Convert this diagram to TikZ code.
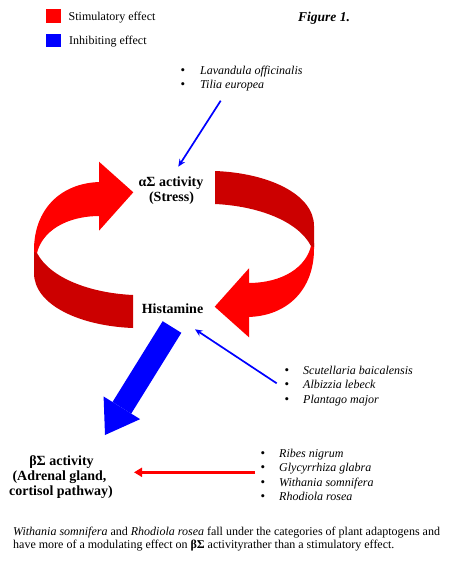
\documentclass[tikz,border=0pt]{standalone}
\usepackage{fontspec}
\setmainfont{Liberation Serif}
\usetikzlibrary{arrows.meta}
\definecolor{redb}{RGB}{255,0,0}
\definecolor{redd}{RGB}{204,0,0}
\definecolor{blueb}{RGB}{0,0,255}
\newcommand\ribbonshape{%
  \fill[redb] (100,182) .. controls (60,183) and (34,210) .. (34,250) -- (34,256) -- (37,253) .. controls (42,232) and (65,216) .. (100,216) -- cycle;
  \fill[redb] (133.3,192.3) -- (99,161.7) -- (99,230.7) -- cycle;
  \fill[redd] (37,253) .. controls (50,278) and (90,293) .. (133,295) -- (133,328) .. controls (80,326) and (34,305) .. (34,273) -- (34,252) -- cycle;
}
\begin{document}
\begin{tikzpicture}[x=1pt,y=-1pt,
  txt/.style={inner sep=0pt, anchor=base west, font=\fontsize{12}{14}\selectfont},
  itxt/.style={inner sep=0pt, anchor=base west, font=\fontsize{12}{14}\selectfont\itshape},
  lbl/.style={inner sep=0pt, anchor=base, font=\fontsize{14}{15}\selectfont\bfseries},
  bul/.style={inner sep=0pt, anchor=base, font=\fontsize{13}{14}\selectfont},
  inharrow/.style={draw=blueb, line width=1.7pt, -{Stealth[length=7.5pt,width=6.5pt]}},
]
\useasboundingbox (0,0) rectangle (451,563);
% legend
\fill[redb] (46,9) rectangle (61,22.7);
\fill[blueb] (46,33.7) rectangle (61,46.7);
\node[txt] (stim) at (68.5,20) {Stimulatory effect};
\node[txt] (inhib) at (69,44.3) {Inhibiting effect};
\node[inner sep=0pt, anchor=base west, font=\fontsize{13.5}{15}\selectfont\bfseries\itshape] (fig) at (298,21.7) {Figure 1.};
% top list
\node[bul] (b1) at (183,74) {•};
\node[itxt] (lav) at (200,74) {Lavandula officinalis};
\node[bul] (b2) at (183,88) {•};
\node[itxt] (til) at (200,88) {Tilia europea};
% ribbon arrows
\ribbonshape
\begin{scope}[rotate around={180:(174,249.5)}]
\ribbonshape
\end{scope}
% labels
\node[lbl] (alpha) at (171,186.7) {αΣ activity};
\node[lbl] (stress) at (171.5,201.7) {(Stress)};
\node[lbl] (hist) at (172.5,313.3) {Histamine};
% right list
\node[bul] (b3) at (287,374) {•};
\node[itxt] (scu) at (303,374) {Scutellaria baicalensis};
\node[bul] (b4) at (287,388.5) {•};
\node[itxt] (alb) at (303,388.5) {Albizzia lebeck};
\node[bul] (b5) at (287,403.3) {•};
\node[itxt] (pla) at (303,403.3) {Plantago major};
% bottom list
\node[bul] (b6) at (263,457.3) {•};
\node[itxt] (rib) at (279,457.3) {Ribes nigrum};
\node[bul] (b7) at (263,471.5) {•};
\node[itxt] (gly) at (279,471.5) {Glycyrrhiza glabra};
\node[bul] (b8) at (263,486.3) {•};
\node[itxt] (wit) at (279,486.3) {Withania somnifera};
\node[bul] (b9) at (263,500.7) {•};
\node[itxt] (rho) at (279,500.7) {Rhodiola rosea};
% beta label
\node[lbl] (beta) at (61.5,465) {βΣ activity};
\node[lbl] (adr) at (59.5,480) {(Adrenal gland,};
\node[lbl] (cor) at (61,495) {cortisol pathway)};
% caption
\node[txt] (cap1) at (13,535) {\textit{Withania somnifera} and \textit{Rhodiola rosea} fall under the categories of plant adaptogens and};
\node[txt] (cap2) at (13,548.3) {have more of a modulating effect on \textbf{βΣ} activityrather than a stimulatory effect.};
% arrows
\coordinate (a1s) at (220.7,100.7);
\coordinate (a1e) at (178.3,166.7);
\draw[inharrow] (a1s) -- (a1e);
\coordinate (a2s) at (276.7,383.3);
\coordinate (a2e) at (195,329.3);
\draw[inharrow] (a2s) -- (a2e);
\coordinate (a3s) at (255,472.3);
\coordinate (a3e) at (134,472.3);
\draw[draw=redb, line width=3pt, -{Triangle[length=8pt,width=9pt]}] (a3s) -- (a3e);
\coordinate (bs) at (172,327);
\coordinate (bt) at (105,435);
\draw[blueb, line width=22pt, -{Triangle[length=32pt,width=43pt,line width=0pt]}] (bs) -- (bt);
\end{tikzpicture}
\end{document}
